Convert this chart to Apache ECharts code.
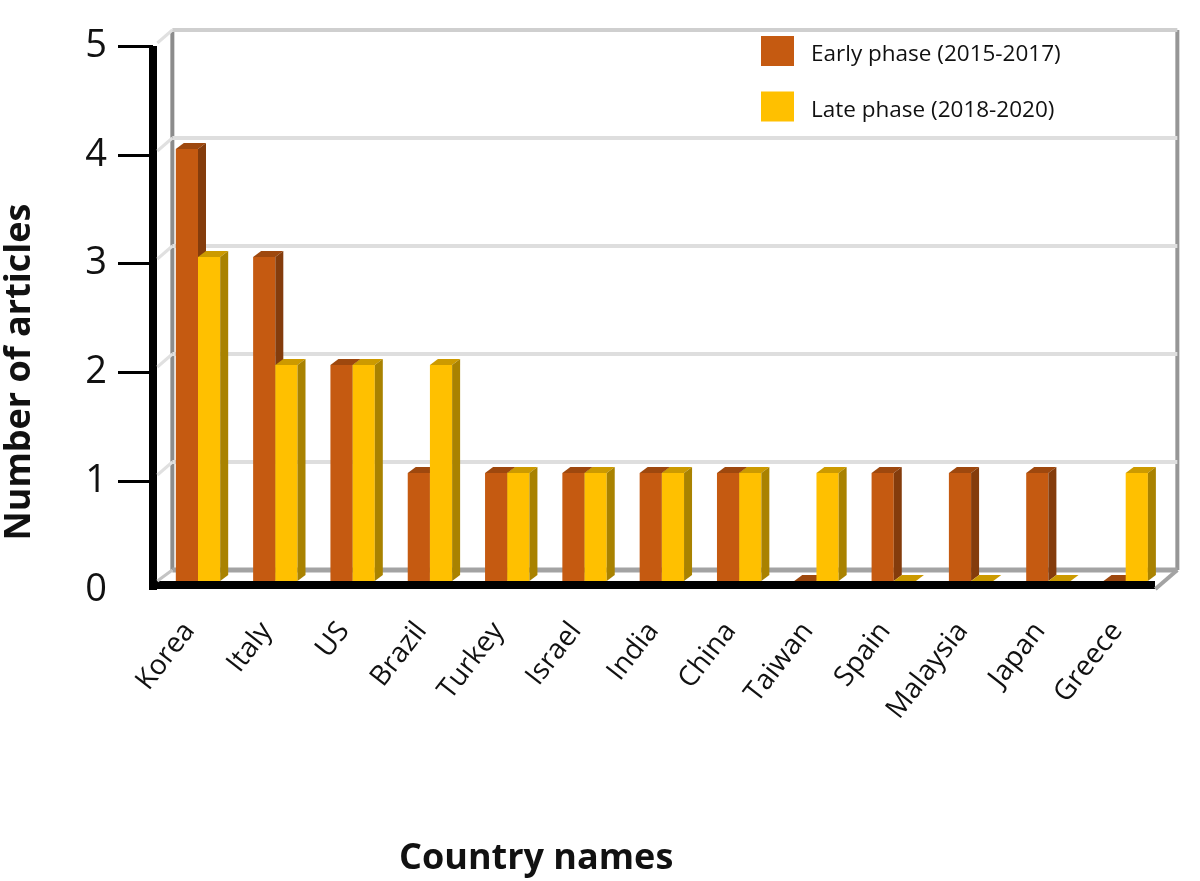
<!DOCTYPE html>
<html><head><meta charset="utf-8">
<style>html,body{margin:0;padding:0;background:#fff}#c{width:1200px;height:881px}</style>
<script src="https://cdn.jsdelivr.net/npm/echarts@6/dist/echarts.min.js"></script>
</head><body><div id="c"></div>
<script>
const categories = ['Korea','Italy','US','Brazil','Turkey','Israel','India','China','Taiwan','Spain','Malaysia','Japan','Greece'];
const earlyPhase = [4,3,2,1,1,1,1,1,0,1,1,1,0];
const latePhase  = [3,2,2,2,1,1,1,1,1,0,0,0,1];
const wallTicks  = [0,1,2,3,4,5];
const tickMarks  = [1,2,3,4,5];
const seriesNames = ['Early phase (2015-2017)','Late phase (2018-2020)'];
const FONT = '"Open Sans","Noto Sans",sans-serif';

function cuboid(colors, side){
  return function(params, api){
    const p = api.coord([api.value(0), api.value(1)]);
    const base = api.coord([api.value(0), 0]);
    const band = api.size([1,0])[0];
    const w = band*0.287, dx = 8, dy = 6;
    const x = side === 0 ? p[0]-w : p[0];
    const y = p[1], b = base[1];
    return {type:'group', children:[
      {type:'rect', shape:{x:x,y:y,width:w,height:b-y}, style:{fill:colors.front}},
      {type:'polygon', shape:{points:[[x,y],[x+dx,y-dy],[x+w+dx,y-dy],[x+w,y]]}, style:{fill:colors.top}},
      {type:'polygon', shape:{points:[[x+w,y],[x+w+dx,y-dy],[x+w+dx,b-dy],[x+w,b]]}, style:{fill:colors.side}}
    ]};
  };
}
function wall(params, api){
  const v = api.value(1);
  const y = api.coord([0,v])[1];
  const cs = params.coordSys;
  const L = cs.x, R = cs.x+cs.width;
  const bx0 = L+13, bx1 = R+13, by = y-11;
  const kids = [];
  if (v === 0){
    const top = api.coord([0,5])[1]-11;
    kids.push({type:'line',shape:{x1:bx0,y1:top,x2:bx0,y2:by},style:{stroke:'#8c8c8c',lineWidth:4}});
    kids.push({type:'line',shape:{x1:bx1,y1:top,x2:bx1,y2:by},style:{stroke:'#969696',lineWidth:4}});
    kids.push({type:'line',shape:{x1:bx0,y1:by,x2:bx1,y2:by},style:{stroke:'#a3a3a3',lineWidth:5}});
    kids.push({type:'line',shape:{x1:L-2,y1:y,x2:bx0,y2:by},style:{stroke:'#c4c4c4',lineWidth:3}});
    kids.push({type:'line',shape:{x1:R-9,y1:y+8,x2:bx1,y2:by},style:{stroke:'#a3a3a3',lineWidth:4}});
  } else {
    kids.push({type:'line',shape:{x1:bx0,y1:by,x2:bx1,y2:by},style:{stroke:v===5?'#cfcfcf':'#dedede',lineWidth:4}});
    kids.push({type:'line',shape:{x1:L-2,y1:y+2,x2:bx0,y2:by},style:{stroke:'#e0e0e0',lineWidth:3}});
  }
  return {type:'group',children:kids};
}

const chart = echarts.init(document.getElementById('c'), null, {renderer:'canvas'});
chart.setOption({
  animation:false,
  backgroundColor:'#fff',
  title:{text:'Country names', left:399, top:841,
    textStyle:{fontFamily:FONT, fontWeight:'bold', fontSize:36, color:'#111'}, padding:0},
  legend:{
    left:761, top:36, orient:'vertical', itemWidth:33, itemHeight:30, itemGap:25, icon:'rect',
    padding:0,
    data:seriesNames,
    formatter:'{a|{name}}',
    textStyle:{rich:{a:{fontFamily:FONT, fontSize:22.5, color:'#111', padding:[8,0,0,12]}}}
  },
  grid:[
    {left:159.35, top:41, width:1005, height:540, outerBoundsMode:'none'},
    {left:153, top:46, width:998, height:544, outerBoundsMode:'none'}
  ],
  xAxis:[
    {type:'category', gridIndex:0, data:categories,
      axisLine:{show:false}, axisTick:{show:false}, splitLine:{show:false},
      axisLabel:{interval:0, rotate:52, margin:34, padding:[0,14,0,0], fontFamily:FONT, fontSize:28, color:'#111'}},
    {type:'value', gridIndex:1, min:0, max:1, offset:-5,
      axisLine:{show:true, lineStyle:{color:'#000', width:8, cap:'square'}}, axisTick:{show:false}, axisLabel:{show:false}, splitLine:{show:false}}
  ],
  yAxis:[
    {type:'value', gridIndex:0, min:0, max:5, interval:1, show:false},
    {type:'value', gridIndex:1, min:0, max:5, interval:1,
      axisLine:{show:true, onZero:false, lineStyle:{color:'#000', width:8, cap:'butt'}},
      axisTick:{show:true, length:35, customValues:tickMarks, lineStyle:{color:'#000', width:3}},
      splitLine:{show:false},
      axisLabel:{margin:46, padding:[4,0,0,0], fontFamily:FONT, fontSize:38, color:'#111'},
      name:'Number of articles', nameLocation:'middle', nameGap:115, nameRotate:90,
      nameTextStyle:{fontFamily:FONT, fontWeight:'bold', fontSize:36, color:'#111', padding:[0,108,0,0]}}
  ],
  series:[
    {type:'custom', name:'walls', xAxisIndex:0, yAxisIndex:0, clip:false, silent:true, z:1,
      renderItem:wall, data:wallTicks.map(v=>[0,v])},
    {type:'custom', name:seriesNames[0], xAxisIndex:0, yAxisIndex:0, clip:false, z:2,
      itemStyle:{color:'#C55A11'},
      renderItem:cuboid({front:'#C55A11',top:'#9E480E',side:'#843C0C'},0),
      data:earlyPhase.map((v,i)=>[i,v])},
    {type:'custom', name:seriesNames[1], xAxisIndex:0, yAxisIndex:0, clip:false, z:3,
      itemStyle:{color:'#FFC000'},
      renderItem:cuboid({front:'#FFC000',top:'#CC9A00',side:'#A98200'},1),
      data:latePhase.map((v,i)=>[i,v])}
  ]
});
</script></body></html>
